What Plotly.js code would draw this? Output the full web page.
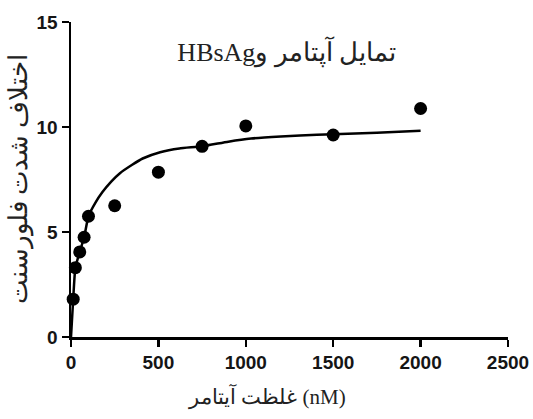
<!DOCTYPE html>
<html>
<head>
<meta charset="utf-8">
<script src="https://cdn.plot.ly/plotly-3.0.1.min.js"></script>
<style>html,body{margin:0;padding:0;background:#fff;}#chart{width:533px;height:419px;}</style>
</head>
<body>
<div id="chart"></div>
<script>
// Measured data points (aptamer concentration in nM vs fluorescence difference)
var concentration = [12.5, 25, 50, 75, 100, 250, 500, 750, 1000, 1500, 2000];
var fluorescence = [1.8, 3.3, 4.05, 4.75, 5.75, 6.25, 7.85, 9.08, 10.05, 9.62, 10.88];

// Fitted curve
var curveX = [0, 12.5, 25, 50, 75, 100, 140, 180, 230, 280, 350, 410, 510, 620, 750, 900, 1030, 1200, 1310, 1500, 1750, 2000];
var curveY = [0, 1.8, 3.3, 4.05, 4.75, 5.75, 6.4, 6.9, 7.4, 7.8, 8.2, 8.5, 8.8, 8.98, 9.08, 9.3, 9.45, 9.55, 9.6, 9.65, 9.73, 9.82];

var xTicks = [0, 500, 1000, 1500, 2000, 2500];
var yTicks = [0, 5, 10, 15];

var titleText = "HBsAgتمایل آپتامر و";
var xTitleText = "غلظت آیتامر (nM)";
var yTitleText = "اختلاف شدت فلورسنت";

var serif = "Liberation Serif, Times New Roman, DejaVu Serif, serif";
var tickFont = {family: "Liberation Sans, Arial, sans-serif", size: 19, color: "#151515", weight: 700};

var traces = [
  {x: curveX, y: curveY, type: "scatter", mode: "lines",
   line: {color: "#000", width: 2.5, shape: "spline", smoothing: 0.5},
   hoverinfo: "skip", showlegend: false, cliponaxis: false},
  {x: concentration, y: fluorescence, type: "scatter", mode: "markers",
   marker: {color: "#000", size: 13}, showlegend: false, cliponaxis: false}
];

var layout = {
  width: 533, height: 419,
  margin: {l: 71, r: 25, t: 22, b: 82},
  paper_bgcolor: "#fff", plot_bgcolor: "#fff",
  showlegend: false,
  title: {text: titleText, font: {family: serif, size: 26, color: "#222"},
          x: 0.494, xref: "paper", xanchor: "center", y: 0.905, yref: "paper", yanchor: "middle"},
  xaxis: {range: [0, 2500], tickvals: xTicks, ticktext: xTicks.map(String),
          showgrid: false, zeroline: false, showline: true, linecolor: "#000", linewidth: 2.5,
          ticks: "outside", ticklen: 7, tickwidth: 2.5, tickcolor: "#000",
          tickfont: tickFont, fixedrange: true,
          title: {text: ""}},
  yaxis: {range: [0, 15], tickvals: yTicks, ticktext: yTicks.map(String),
          showgrid: false, zeroline: false, showline: true, linecolor: "#000", linewidth: 2.5,
          ticks: "outside", ticklen: 7, tickwidth: 2.5, tickcolor: "#000",
          tickfont: tickFont, fixedrange: true,
          title: {text: yTitleText, font: {family: serif, size: 26, color: "#222"}, standoff: 2}},
  annotations: [
    {text: xTitleText, xref: "paper", yref: "paper", x: 0.449, y: -0.19,
     xanchor: "center", yanchor: "middle", showarrow: false,
     font: {family: serif, size: 21, color: "#222"}}
  ]
};

Plotly.newPlot("chart", traces, layout, {staticPlot: true, displayModeBar: false});
</script>
</body>
</html>
